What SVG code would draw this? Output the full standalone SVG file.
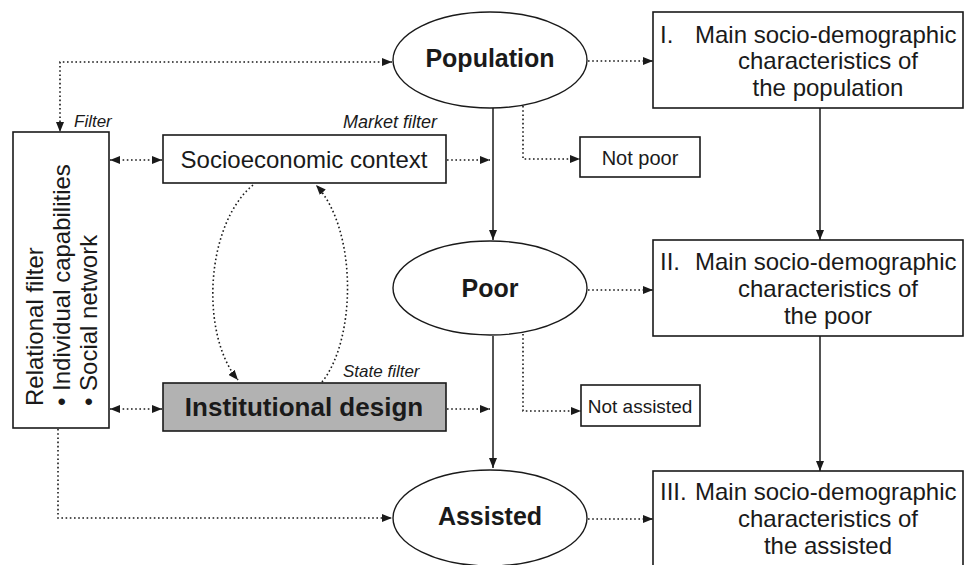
<svg xmlns="http://www.w3.org/2000/svg" width="971" height="565" viewBox="0 0 971 565">
<defs>
<marker id="ah" viewBox="0 0 10 8" refX="10" refY="4" markerWidth="10" markerHeight="8" orient="auto-start-reverse" markerUnits="userSpaceOnUse">
<path d="M0,0 L10,4 L0,8 z" fill="#1a1a1a"/>
</marker>
<style>
.box{fill:#fff;stroke:#1a1a1a;stroke-width:1.6}
.ell{fill:#fff;stroke:#1a1a1a;stroke-width:1.4}
.inst{fill:#b2b2b2;stroke:#1a1a1a;stroke-width:1.6}
.t{font-family:"Liberation Sans",Arial,sans-serif;fill:#1a1a1a}
.big{font-size:24px}
.bold{font-size:25px;font-weight:bold}
.it{font-size:17px;font-style:italic}
.it18{font-size:18px;font-style:italic}
.solid{fill:none;stroke:#1a1a1a;stroke-width:1.5}
.dot{fill:none;stroke:#1a1a1a;stroke-width:1.6;stroke-dasharray:1.6 2.6}
</style>
</defs>
<rect width="971" height="565" fill="#fff"/>

<g id="connectors">
<line class="solid" x1="493" y1="108" x2="493" y2="240" marker-end="url(#ah)"/>
<line class="solid" x1="493" y1="336" x2="493" y2="468" marker-end="url(#ah)"/>
<line class="solid" x1="820" y1="108" x2="820" y2="240" marker-end="url(#ah)"/>
<line class="solid" x1="820" y1="336" x2="820" y2="471" marker-end="url(#ah)"/>
<line class="dot" x1="588" y1="61" x2="653" y2="61" marker-end="url(#ah)"/>
<line class="dot" x1="588" y1="290" x2="653" y2="290" marker-end="url(#ah)"/>
<line class="dot" x1="588" y1="519" x2="653" y2="519" marker-end="url(#ah)"/>
<path class="dot" d="M523,106 V159 H580" marker-end="url(#ah)"/>
<path class="dot" d="M523,334 V411 H581" marker-end="url(#ah)"/>
<line class="dot" x1="447" y1="160" x2="490" y2="160" marker-end="url(#ah)"/>
<line class="dot" x1="447" y1="409" x2="490" y2="409" marker-end="url(#ah)"/>
<line class="dot" x1="110" y1="160" x2="162" y2="160" marker-start="url(#ah)" marker-end="url(#ah)"/>
<line class="dot" x1="110" y1="409" x2="162" y2="409" marker-start="url(#ah)" marker-end="url(#ah)"/>
<path class="dot" d="M392,62 H60 V132" marker-start="url(#ah)" marker-end="url(#ah)"/>
<path class="dot" d="M58,429 V518 H392" marker-end="url(#ah)"/>
<path class="dot" d="M253,185 C205,225 200,335 238,380" marker-end="url(#ah)"/>
<path class="dot" d="M322,382 C356,340 358,230 316,185" marker-end="url(#ah)"/>
</g>

<g id="population">
<ellipse class="ell" cx="490" cy="60" rx="97" ry="48"/>
<text class="t bold" x="490" y="67" text-anchor="middle">Population</text>
</g>
<g id="poor">
<ellipse class="ell" cx="490" cy="288" rx="97" ry="47"/>
<text class="t bold" x="490" y="297" text-anchor="middle">Poor</text>
</g>
<g id="assisted">
<ellipse class="ell" cx="490" cy="518" rx="97" ry="48"/>
<text class="t bold" x="490" y="525" text-anchor="middle">Assisted</text>
</g>

<g id="box-population">
<rect class="box" x="653" y="12" width="310" height="96"/>
<text class="t big" x="660" y="43">I.</text>
<text class="t big" x="695" y="43">Main socio-demographic</text>
<text class="t big" x="828" y="69" text-anchor="middle">characteristics of</text>
<text class="t big" x="828" y="96" text-anchor="middle">the population</text>
</g>
<g id="box-poor">
<rect class="box" x="653" y="240" width="310" height="96"/>
<text class="t big" x="660" y="270">II.</text>
<text class="t big" x="695" y="270">Main socio-demographic</text>
<text class="t big" x="828" y="297" text-anchor="middle">characteristics of</text>
<text class="t big" x="828" y="324" text-anchor="middle">the poor</text>
</g>
<g id="box-assisted">
<rect class="box" x="653" y="471" width="310" height="110"/>
<text class="t big" x="660" y="500">III.</text>
<text class="t big" x="695" y="500">Main socio-demographic</text>
<text class="t big" x="828" y="527" text-anchor="middle">characteristics of</text>
<text class="t big" x="828" y="554" text-anchor="middle">the assisted</text>
</g>

<g id="not-poor">
<rect class="box" x="580" y="137" width="120" height="40"/>
<text class="t" font-size="20" x="640" y="165" text-anchor="middle">Not poor</text>
</g>
<g id="not-assisted">
<rect class="box" x="581" y="385" width="119" height="41"/>
<text class="t" font-size="19" x="640" y="413" text-anchor="middle">Not assisted</text>
</g>

<g id="socioeconomic-context">
<rect class="box" x="163" y="135" width="283" height="48"/>
<text class="t big" x="304" y="168" text-anchor="middle">Socioeconomic context</text>
<text class="t it18" x="437" y="128" text-anchor="end">Market filter</text>
</g>
<g id="institutional-design">
<rect class="inst" x="163" y="383" width="283" height="48"/>
<text class="t" font-size="26" font-weight="bold" x="304" y="416" text-anchor="middle">Institutional design</text>
<text class="t it" x="343" y="377">State filter</text>
</g>

<g id="relational-filter">
<rect class="box" x="13" y="132" width="96" height="296"/>
<text class="t it" x="74" y="127">Filter</text>
<text class="t big" transform="translate(43,406) rotate(-90)">Relational filter</text>
<text class="t big" transform="translate(70,406) rotate(-90)">• Individual capabilities</text>
<text class="t big" transform="translate(97,406) rotate(-90)">• Social network</text>
</g>
</svg>
